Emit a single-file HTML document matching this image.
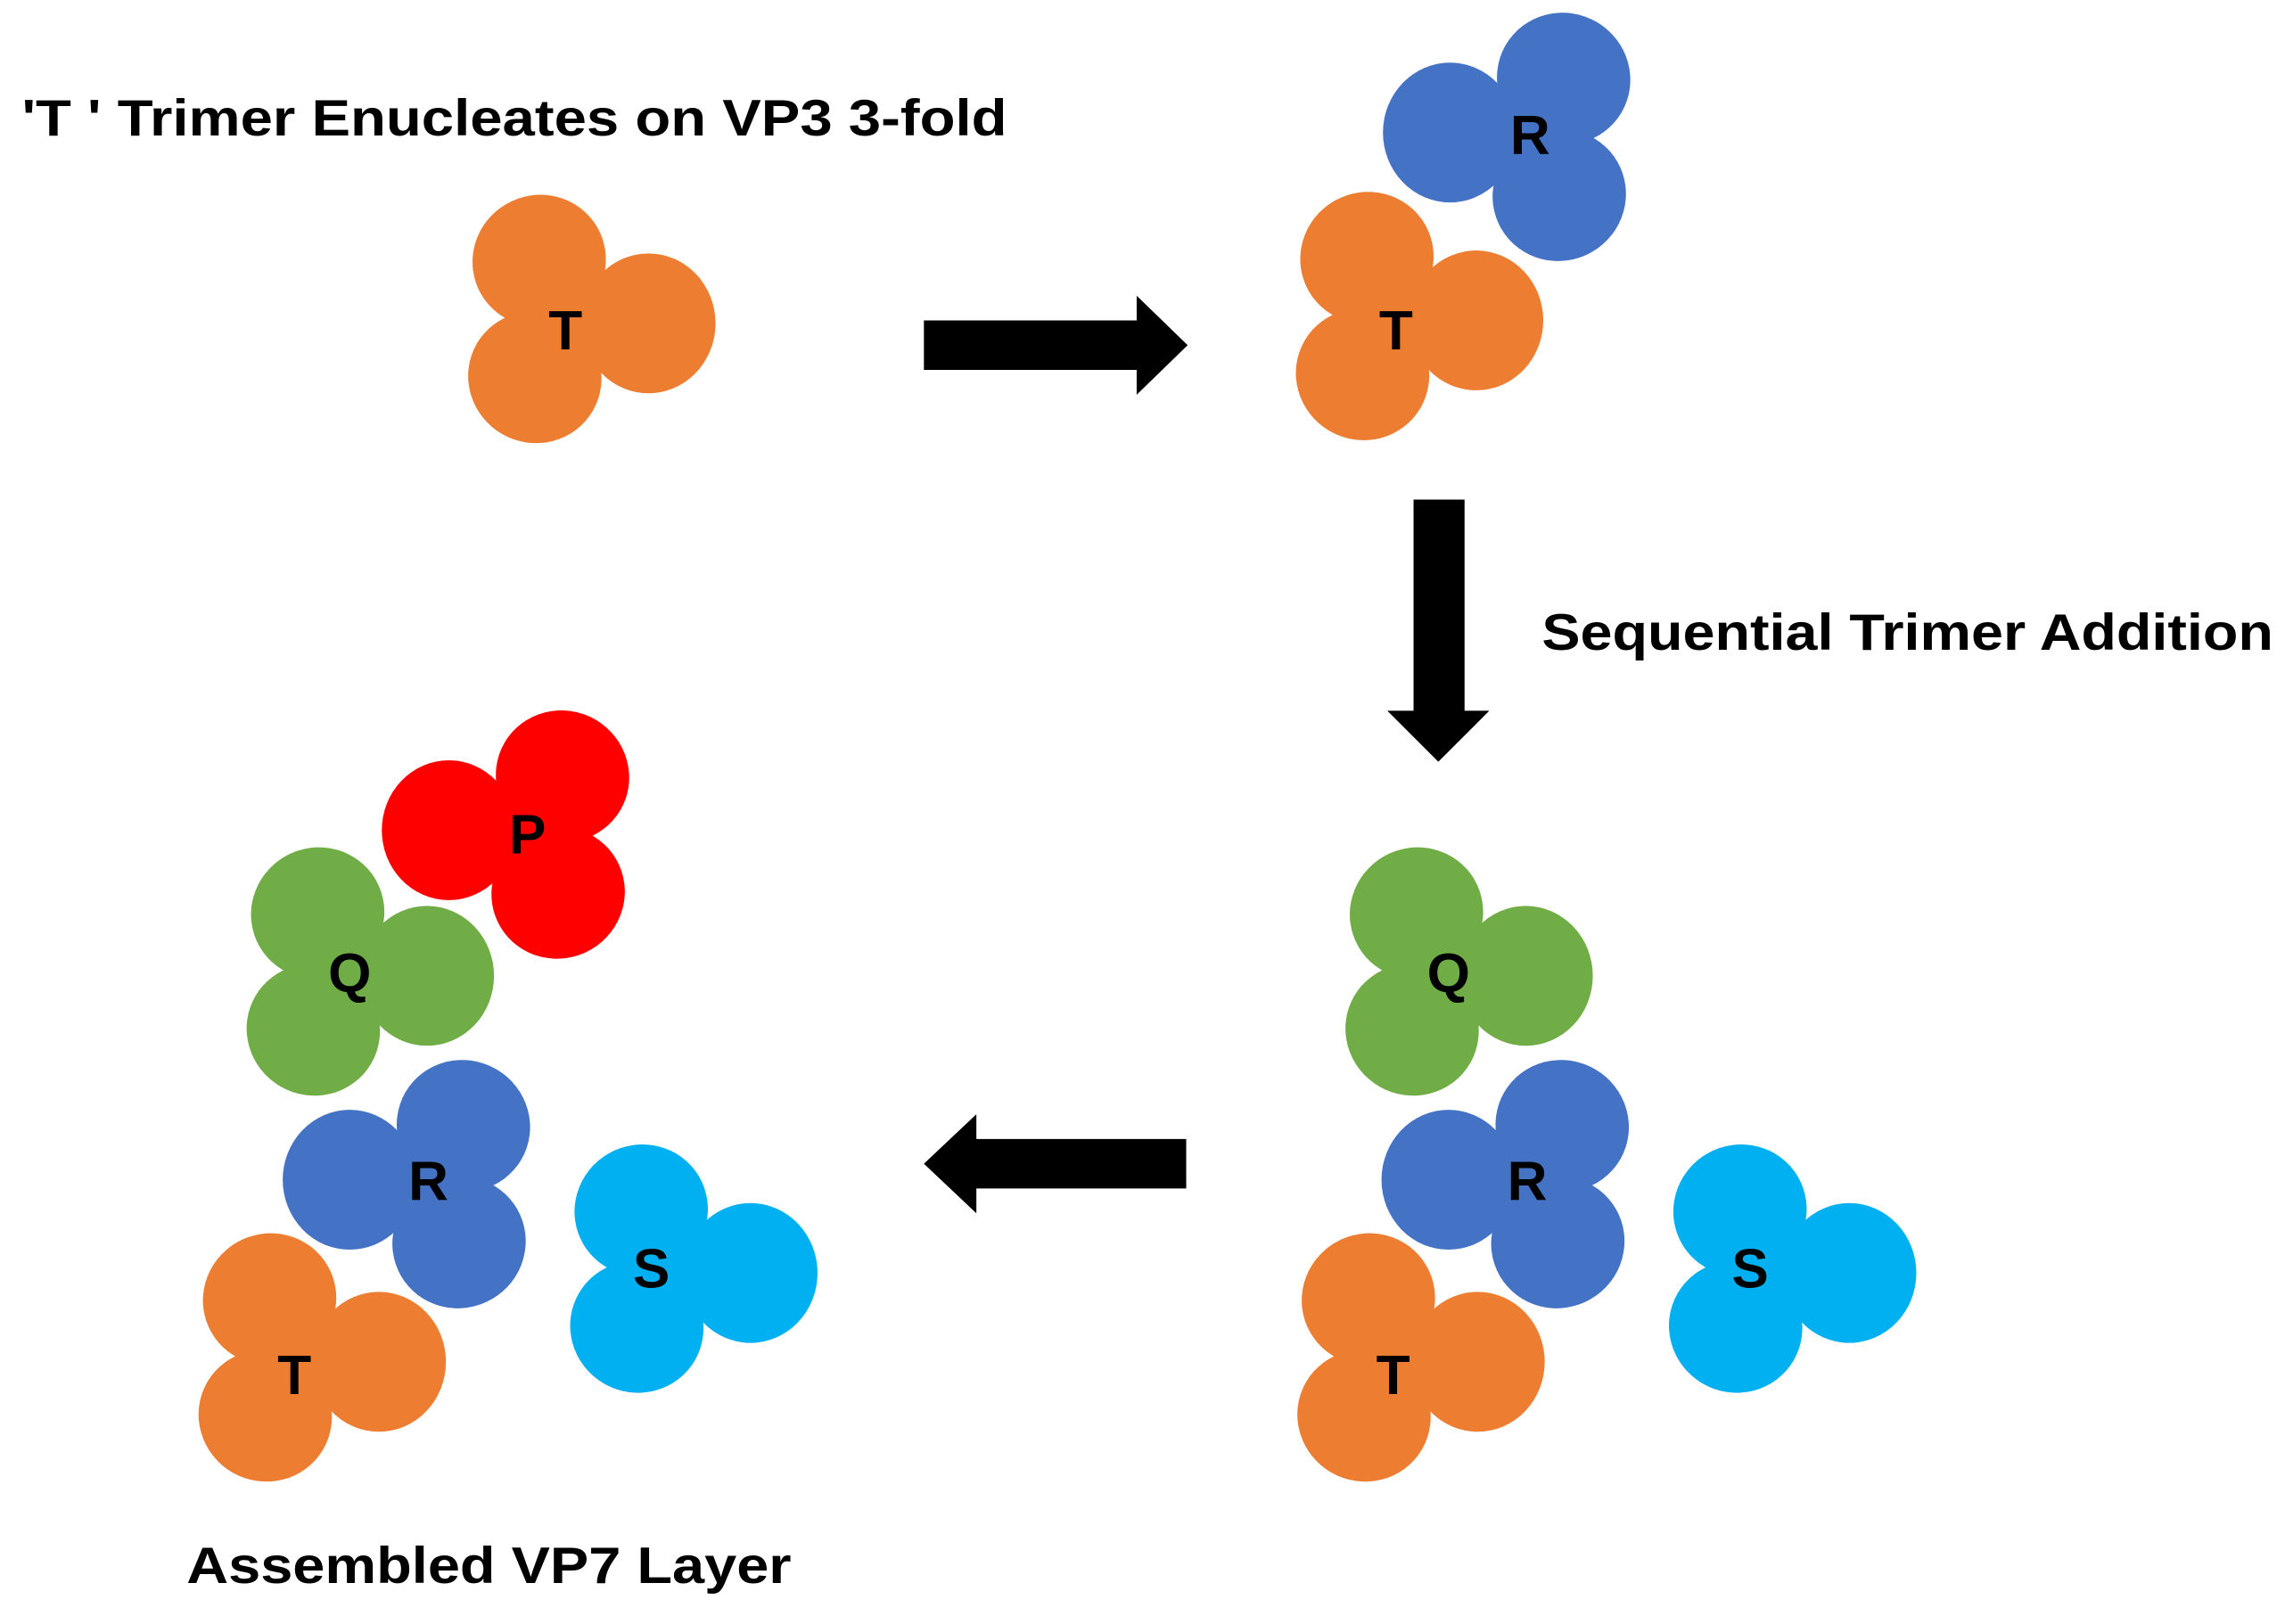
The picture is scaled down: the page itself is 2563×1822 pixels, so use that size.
<!DOCTYPE html>
<html><head><meta charset="utf-8"><style>
html,body{margin:0;padding:0;background:#fff;}
svg{display:block;}
text{font-family:"Liberation Sans",Arial,sans-serif;font-weight:bold;fill:#000;}
</style></head><body>
<svg width="2563" height="1822" viewBox="0 0 1568 1115" preserveAspectRatio="none" xmlns="http://www.w3.org/2000/svg">
<defs>
<g id="tri">
<circle cx="0" cy="0" r="38"/>
<ellipse cx="50" cy="2" rx="46" ry="48"/>
<ellipse cx="-25" cy="-41" rx="46" ry="45" transform="rotate(-30 -25 -41)"/>
<ellipse cx="-28" cy="39" rx="46" ry="45" transform="rotate(30 -28 39)"/>
</g>
</defs>
<rect width="1568" height="1115" fill="#fff"/>

<text x="15" y="93" font-size="35" textLength="676" lengthAdjust="spacingAndGlyphs">'T ' Trimer Enucleates on VP3 3-fold</text>
<text x="1058" y="446" font-size="35" textLength="502" lengthAdjust="spacingAndGlyphs">Sequential Trimer Addition</text>
<text x="128" y="1087" font-size="35" textLength="415" lengthAdjust="spacingAndGlyphs">Assembled VP7 Layer</text>

<!-- arrows -->
<polygon points="634,220 780,220 780,203 815,237 780,271 780,254 634,254" fill="#000"/>
<polygon points="970,343 1005,343 1005,488 1022,488 987,523 952,488 970,488" fill="#000"/>
<polygon points="814,782 670,782 670,765 634,799 670,833 670,816 814,816" fill="#000"/>

<!-- top left T -->
<use href="#tri" fill="#ED7D31" transform="translate(395,220)"/>
<text x="388" y="240" font-size="38" text-anchor="middle">T</text>

<!-- top right -->
<use href="#tri" fill="#4472C4" transform="translate(1045,93) rotate(180)"/>
<text x="1050" y="106" font-size="38" text-anchor="middle">R</text>
<use href="#tri" fill="#ED7D31" transform="translate(963,218)"/>
<text x="958" y="240" font-size="38" text-anchor="middle">T</text>

<!-- bottom left group -->
<use href="#tri" fill="#FF0000" transform="translate(358,572) rotate(180)"/>
<text x="362" y="586" font-size="38" text-anchor="middle">P</text>
<use href="#tri" fill="#70AD47" transform="translate(243,668)"/>
<text x="240" y="681" font-size="38" text-anchor="middle">Q</text>
<use href="#tri" fill="#4472C4" transform="translate(290,812) rotate(180)"/>
<text x="294" y="824" font-size="38" text-anchor="middle">R</text>
<use href="#tri" fill="#00B0F0" transform="translate(465,872)"/>
<text x="447" y="884" font-size="38" text-anchor="middle">S</text>
<use href="#tri" fill="#ED7D31" transform="translate(210,933)"/>
<text x="202" y="957" font-size="38" text-anchor="middle">T</text>

<!-- bottom right group -->
<use href="#tri" fill="#70AD47" transform="translate(997,668)"/>
<text x="994" y="681" font-size="38" text-anchor="middle">Q</text>
<use href="#tri" fill="#4472C4" transform="translate(1044,812) rotate(180)"/>
<text x="1048" y="824" font-size="38" text-anchor="middle">R</text>
<use href="#tri" fill="#00B0F0" transform="translate(1219,872)"/>
<text x="1201" y="884" font-size="38" text-anchor="middle">S</text>
<use href="#tri" fill="#ED7D31" transform="translate(964,933)"/>
<text x="956" y="957" font-size="38" text-anchor="middle">T</text>
</svg>
</body></html>
